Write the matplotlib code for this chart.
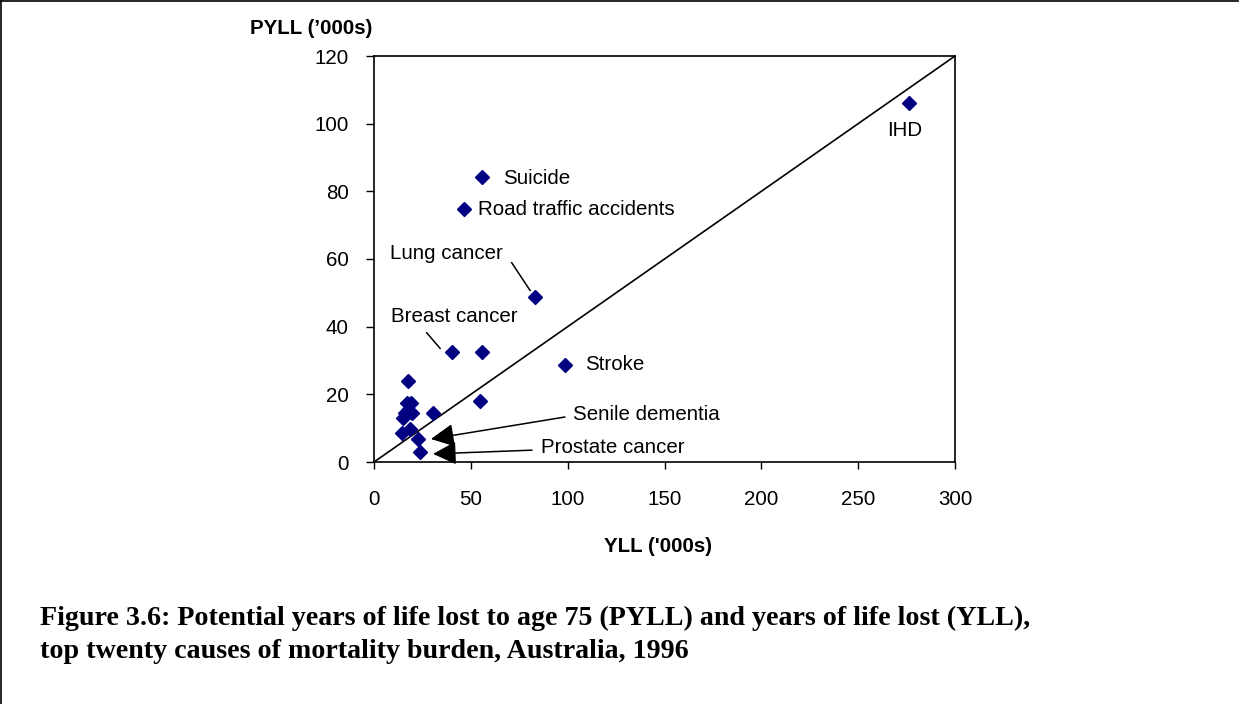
import matplotlib
matplotlib.use("Agg")
import matplotlib.pyplot as plt
from matplotlib.lines import Line2D

# ---- data ----
yll = [276.2, 55.8, 46.5, 83.1, 40.3, 55.8, 98.6, 54.7, 30.6, 17.7,
       16.9, 18.9, 17.7, 19.5, 16.0, 15.1, 14.3, 18.6, 22.9, 23.7]
pyll = [106.1, 84.2, 74.8, 48.8, 32.5, 32.5, 28.7, 18.1, 14.4, 23.9,
        17.5, 17.5, 15.4, 14.4, 14.4, 12.9, 8.7, 9.7, 6.7, 3.0]
ref_x = [0, 300]
ref_y = [0, 120]
x_ticks = [0, 50, 100, 150, 200, 250, 300]
y_ticks = [0, 20, 40, 60, 80, 100, 120]

plain_labels = ["IHD", "Suicide", "Road traffic accidents", "Stroke"]
plain_pos = [(274.1, 98.1, "center"), (66.6, 83.7, "left"),
             (53.7, 74.5, "left"), (108.9, 28.7, "left")]

line_labels = ["Lung cancer", "Breast cancer"]
line_text_pos = [(37.2, 61.5), (41.3, 42.9)]
line_seg = [((71.1, 58.9), (80.6, 50.7)), ((27.2, 38.2), (34.1, 33.6))]

arrow_labels = ["Senile dementia", "Prostate cancer"]
arrow_text_pos = [(102.7, 13.9), (86.2, 4.4)]
arrow_tail = [(98.6, 13.3), (81.6, 3.5)]
arrow_tip = [(29.4, 6.8), (30.5, 2.4)]

title = ("Figure 3.6: Potential years of life lost to age 75 (PYLL) and years of life lost (YLL),\n"
         "top twenty causes of mortality burden, Australia, 1996")

plt.rcParams['font.family'] = ['Liberation Sans', 'DejaVu Sans']
FS = 14.8

fig = plt.figure(figsize=(12.39, 7.04), dpi=100)
ax = fig.add_axes([374/1239, 1-462/704, (955-374)/1239, (462-56)/704])

ax.plot(ref_x, ref_y, color='black', lw=1.2, zorder=2)
ax.plot(yll, pyll, linestyle='none', marker='D', ms=6.8, color='#000080',
        markeredgecolor='#000080', zorder=3)

ax.set_xlim(0, 300)
ax.set_ylim(0, 120)
ax.set_xticks(x_ticks)
ax.set_yticks(y_ticks)
ax.tick_params(axis='x', direction='out', length=5, width=1, pad=15, labelsize=FS)
ax.tick_params(axis='y', direction='out', length=6, width=1, pad=12, labelsize=FS)
for s in ax.spines.values():
    s.set_linewidth(1.2)

for lab, (x, y, ha) in zip(plain_labels, plain_pos):
    ax.text(x, y, lab, ha=ha, va='center', fontsize=FS)

for lab, (tx, ty), (p0, p1) in zip(line_labels, line_text_pos, line_seg):
    ax.text(tx, ty, lab, ha='center', va='center', fontsize=FS)
    ax.plot([p0[0], p1[0]], [p0[1], p1[1]], color='black', lw=1.1)

for lab, (tx, ty), tail, tip in zip(arrow_labels, arrow_text_pos, arrow_tail, arrow_tip):
    ax.text(tx, ty, lab, ha='left', va='center', fontsize=FS)
    ax.annotate('', xy=tip, xytext=tail,
                arrowprops=dict(arrowstyle='-|>,head_length=1.2,head_width=0.6',
                                color='black', lw=1.1, shrinkA=0, shrinkB=0,
                                mutation_scale=12))

fig.text(311/1239, 1-28/704, "PYLL (\u2019000s)", ha='center', va='center',
         fontsize=FS, fontweight='bold')
fig.text(658/1239, 1-547/704, "YLL ('000s)", ha='center', va='center',
         fontsize=FS, fontweight='bold')

fig.text(40/1239, 1-635/704, title, ha='left', va='center', fontsize=20.2,
         fontweight='bold', family=['Liberation Serif'], linespacing=1.4)

# figure border (left and top)
fig.add_artist(Line2D([1/1239, 1/1239], [0, 1-1/704], color='black', lw=1.2,
                      transform=fig.transFigure))
fig.add_artist(Line2D([1/1239, 1238/1239], [1-1/704, 1-1/704], color='black', lw=1.2,
                      transform=fig.transFigure))

fig.savefig("out.png", dpi=100)
